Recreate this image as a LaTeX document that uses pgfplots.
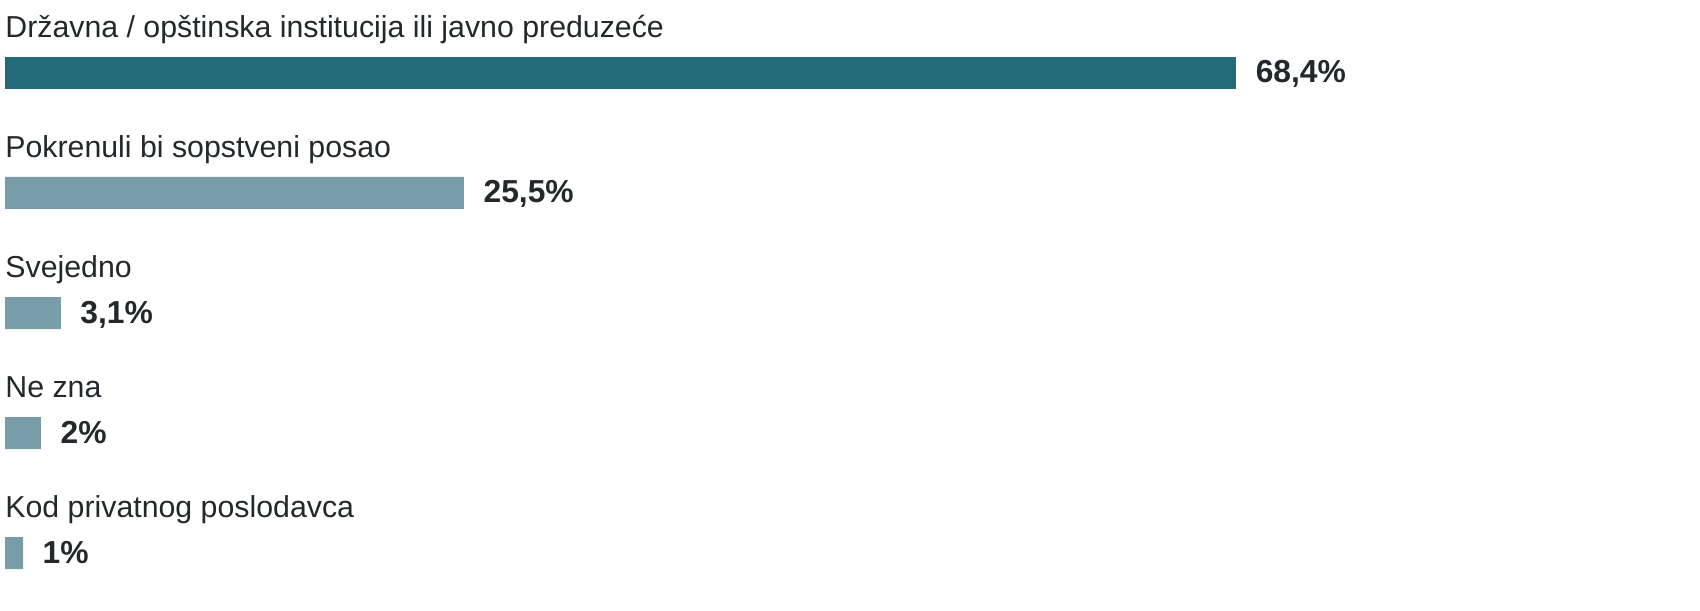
\documentclass[border=0pt]{standalone}
\usepackage{fontspec}
\setmainfont{Liberation Sans}
\usepackage{pgfplots}
\pgfplotsset{compat=1.18}
\definecolor{darkbar}{HTML}{236A7A}
\definecolor{lightbar}{HTML}{789DA8}
\definecolor{txt}{HTML}{23282D}

\begin{document}
\begin{tikzpicture}[x=1pt,y=1pt]
\useasboundingbox (0,0) rectangle (850,305);
\begin{axis}[
    at={(2.5pt,0pt)}, anchor=south west,
    scale only axis, width=847.5pt, height=305pt,
    xmin=0, xmax=94.17,
    ymin=-0.6083, ymax=4.475, y dir=reverse,
    hide axis, clip=false,
    xbar, bar width=16pt, bar shift=0pt,
    /pgf/number format/assume math mode=true,
    nodes near coords={\pgfmathprintnumber[use comma,fixed,precision=1]{\pgfplotspointmeta}\%},
    every node near coord/.append style={anchor=base west, inner sep=0pt,
        xshift=9.6pt, yshift=-5pt, text=txt,
        font=\fontsize{15.9}{18}\selectfont\bfseries},
  ]
  % prvi stubac tamniji
  \addplot[fill=darkbar, draw=none] coordinates {(68.4,0)};
  \addplot[fill=lightbar, draw=none] coordinates {(25.5,1) (3.1,2) (2,3) (1,4)};

  \begin{scope}[every node/.style={anchor=base west, inner sep=0pt, text=txt,
      font=\fontsize{15.15}{18}\selectfont, xshift=0pt, yshift=17.9pt}]
    \node at (axis cs:0,0) {Državna / opštinska institucija ili javno preduzeće};
    \node at (axis cs:0,1) {Pokrenuli bi sopstveni posao};
    \node at (axis cs:0,2) {Svejedno};
    \node at (axis cs:0,3) {Ne zna};
    \node at (axis cs:0,4) {Kod privatnog poslodavca};
  \end{scope}
\end{axis}
\end{tikzpicture}
\end{document}
